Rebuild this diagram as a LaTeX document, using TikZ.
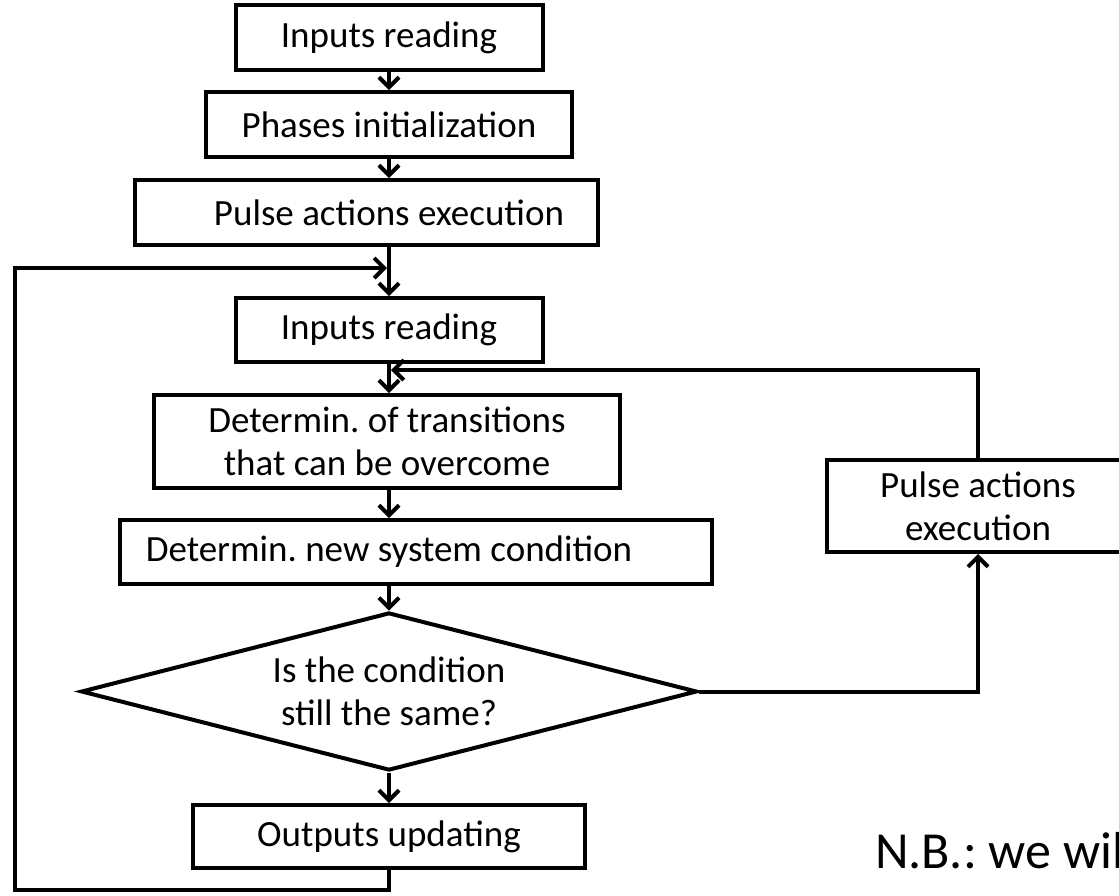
\documentclass[tikz,border=0pt]{standalone}
\usepackage{fontspec}
\setmainfont{Carlito}
\usetikzlibrary{arrows.meta,shapes.geometric,calc}
\frenchspacing
\begin{document}
\begin{tikzpicture}[x=1pt,y=-1pt,
  line width=4pt,
  txt/.style={font=\fontsize{37}{43}\selectfont},
  box/.style={draw, rectangle, inner sep=0pt, align=center, txt},
  decision/.style={draw, diamond, aspect=3.9, inner sep=0pt, align=center, txt},
  flow/.style={-{Straight Barb[length=10pt,width=20pt]}},
  wire/.style={line join=miter}]
\useasboundingbox (0,0) rectangle (1119,895);
\clip (0,0) rectangle (1119,895);
\fill[white] (0,0) rectangle (1119,895);

% main column
\node[box, minimum width=307pt, minimum height=65pt] (in1) at (389,37.5) {Inputs reading};
\node[box, minimum width=366pt, minimum height=65pt] (ph) at (389,124.5) {Phases initialization};
\node[box, minimum width=463pt, minimum height=65pt] (pa) at (366,212.5) {};
\node[txt] (pa-text) at (pa.center -| in1.center) {Pulse actions execution};
\node[box, minimum width=307pt, minimum height=64pt] (in2) at (389,330) {Inputs reading};
\node[box, minimum width=466pt, minimum height=93pt] (tr) at (387,441.5) {Determin. of transitions\\that can be overcome};
\node[box, minimum width=592pt, minimum height=64pt] (ns) at (416,552) {};
\node[txt] (ns-text) at (ns.center -| in1.center) {Determin. new system condition};
\node[decision, minimum width=616pt, minimum height=158pt] (same) at (389,691.5) {Is the condition\\still the same?};
\node[box, minimum width=392pt, minimum height=63pt] (out) at (389,836.5) {Outputs updating};

% side branch
\node[box, minimum width=302pt, minimum height=92pt] (pa2) at (978,506) {Pulse actions\\execution};

% note, running off the right edge
\node[anchor=base west, inner sep=0pt, font=\fontsize{52}{62}\selectfont] (nb) at (873,868) {N.B.: we wil};

% loop corners
\coordinate (lb) at (15,890);
\coordinate (lt) at (15,268);
\coordinate (rt) at (978,370);

% connectors
\draw[flow] (in1) -- (ph);
\draw[flow] (ph.south) -- (ph.south |- pa.north);
\draw[flow] (ph.south |- pa.south) -- (in2.north);
\draw[flow] (in2.south) -- (in2.south |- tr.north);
\draw[flow] (in2.south |- tr.south) -- (in2.south |- ns.north);
\draw[flow] (in2.south |- ns.south) -- (same.north);
\draw[flow] (same) -- (out);
\draw[flow, wire] (out.south) -- (out.south |- lb) -- (lb) -- (lt) -- ($(in2.north |- lt)+(-2,0)$);
\draw[flow, wire] (same.east) -- (same.east -| pa2) -- (pa2.south);
\draw[flow, wire] (pa2.north) -- (rt) -- ($(in2.south |- rt)+(2,0)$);
\end{tikzpicture}
\end{document}
